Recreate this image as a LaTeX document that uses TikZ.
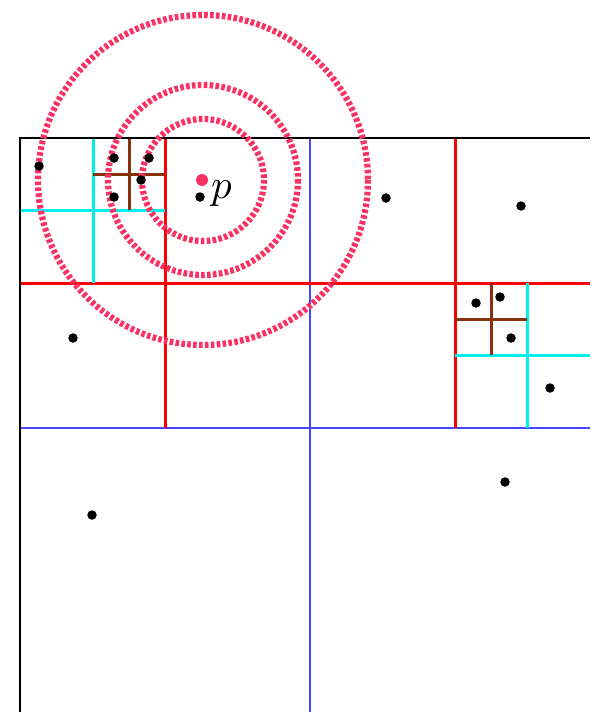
\documentclass[tikz,border=0pt]{standalone}
\definecolor{ringc}{RGB}{250,50,100}
\definecolor{brownc}{RGB}{135,50,10}
\definecolor{bluec}{RGB}{70,70,255}
\definecolor{cyanc}{RGB}{0,240,240}
\definecolor{redc}{RGB}{255,0,0}
\begin{document}
\begin{tikzpicture}[x=1pt,y=-1pt,
  frame/.style={black,line width=2.8pt},
  lvl1/.style={bluec,line width=1.2pt},
  lvl2/.style={redc,line width=3pt},
  lvl3/.style={cyanc,line width=3pt},
  lvl4/.style={brownc,line width=3pt},
  ring/.style={ringc,line width=6.2pt,dash pattern=on 3.6pt off 2.3pt},
  pt/.style={circle,fill=black,inner sep=0pt,minimum size=9.5pt},
  qpt/.style={circle,fill=ringc,inner sep=0pt,minimum size=12pt}]
\useasboundingbox (0,0) rectangle (590,712);
% level 1 (blue)
\draw[lvl1] (310,138) -- (310,712);
\draw[lvl1] (20,428) -- (590,428);
% level 2 (red)
\draw[lvl2] (20,283) -- (590,283);
\draw[lvl2] (165,138) -- (165,428);
\draw[lvl2] (455,138) -- (455,428);
% level 3 (cyan)
\draw[lvl3] (93,138) -- (93,283);
\draw[lvl3] (20,210) -- (165,210);
\draw[lvl3] (527,283) -- (527,428);
\draw[lvl3] (455,355) -- (590,355);
% level 4 (brown)
\draw[lvl4] (129,138) -- (129,210);
\draw[lvl4] (93,174) -- (165,174);
\draw[lvl4] (491,283) -- (491,355);
\draw[lvl4] (455,319) -- (527,319);
% frame
\draw[frame] (20,712) -- (20,138) -- (590,138);
% rings
\draw[ring] (203,180) circle (61);
\draw[ring] (203,180) circle (95);
\draw[ring] (203,180) circle (165);
% points
\foreach \n/\x/\y in {a/39/166,b/114/158,c/149/158,d/141/180,e/114/197,f/200/197,
  g/386/198,h/521/206,i/73/338,j/476/303,k/500/297,l/511/338,m/550/388,
  n/505/482,o/92/515}
  \node[pt] (\n) at (\x,\y) {};
\node[qpt] (q) at (202,180) {};
\node[anchor=base west,inner sep=0pt] (plabel) at (211,198) {\scalebox{4.1}{$p$}};
\end{tikzpicture}
\end{document}
